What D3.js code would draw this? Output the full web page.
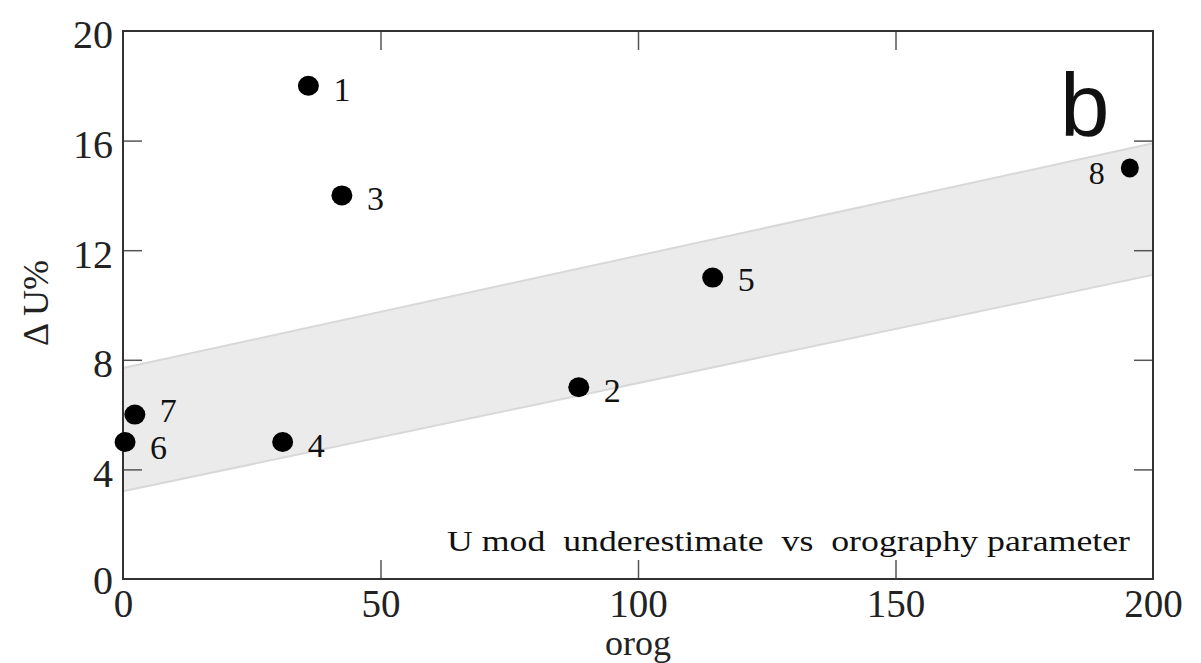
<!DOCTYPE html>
<html>
<head>
<meta charset="utf-8">
<script src="https://cdn.jsdelivr.net/npm/d3@7"></script>
<style>
  html, body { margin: 0; padding: 0; background: #fff; }
  svg { display: block; }
</style>
</head>
<body>
<svg id="chart" width="1201" height="663"></svg>
<script>
// ---- data ----
const pointIds   = ["1", "2", "3", "4", "5", "6", "7", "8"];
const orogValues = [36, 88.5, 42.5, 31, 114.5, 0.4, 2.3, 195.5];
const dUValues   = [18, 7, 14, 5, 11, 5, 6, 15];
const labelSide  = ["right", "right", "right", "right", "right", "right", "right", "left"];
const bandX      = [0, 200];
const bandLower  = [3.2, 11.1];
const bandUpper  = [7.7, 15.9];
const xTicks     = [0, 50, 100, 150, 200];
const yTicks     = [0, 4, 8, 12, 16, 20];
const xTitle = "orog";
const yTitle = "\u0394 U%";
const annotation = "U mod  underestimate  vs  orography parameter";
const panelLetter = "b";

// label nudges (style only)
const labelNudge = { "7": -8, "6": 2, "8": 1, "5": -2 };

// ---- layout ----
const W = 1201, H = 663;
const m = { left: 123, right: 48, top: 31, bottom: 84 };
const svg = d3.select("#chart");
const x = d3.scaleLinear().domain([0, 200]).range([m.left, W - m.right]);
const y = d3.scaleLinear().domain([0, 20]).range([H - m.bottom, m.top]);
const serif = "'Liberation Serif', 'Times New Roman', Times, serif";
const tickLen = 19;

// band
const band = bandX.map((v, i) => ({ x: v, lo: bandLower[i], hi: bandUpper[i] }));
svg.append("path")
  .datum(band)
  .attr("d", d3.area().x(d => x(d.x)).y0(d => y(d.lo)).y1(d => y(d.hi)))
  .attr("fill", "#ebebeb");
svg.append("path").datum(band)
  .attr("d", d3.line().x(d => x(d.x)).y(d => y(d.hi)))
  .attr("fill", "none").attr("stroke", "#d8d8d8").attr("stroke-width", 2);
svg.append("path").datum(band)
  .attr("d", d3.line().x(d => x(d.x)).y(d => y(d.lo)))
  .attr("fill", "none").attr("stroke", "#d8d8d8").attr("stroke-width", 2);

// axes (inside ticks, mirrored)
const axB = svg.append("g").attr("transform", `translate(0,${y(0)})`)
  .call(d3.axisBottom(x).tickValues(xTicks).tickSizeInner(-tickLen).tickSizeOuter(0).tickPadding(11));
const axT = svg.append("g").attr("transform", `translate(0,${y(20)})`)
  .call(d3.axisTop(x).tickValues(xTicks.slice(1, -1)).tickSizeInner(-tickLen).tickSizeOuter(0).tickFormat(""));
const axL = svg.append("g").attr("transform", `translate(${x(0)},0)`)
  .call(d3.axisLeft(y).tickValues(yTicks).tickSizeInner(-tickLen).tickSizeOuter(0).tickPadding(10));
const axR = svg.append("g").attr("transform", `translate(${x(200)},0)`)
  .call(d3.axisRight(y).tickValues(yTicks.slice(1, -1)).tickSizeInner(-tickLen).tickSizeOuter(0).tickFormat(""));

[axB, axT, axL, axR].forEach(g => {
  g.select(".domain").remove();
  g.selectAll(".tick line").attr("stroke", "#555").attr("stroke-width", 1.5);
  g.selectAll("text").attr("font-family", serif).attr("font-size", 40).attr("fill", "#222");
});
axB.selectAll(".tick").filter(d => d === 0 || d === 200).select("line").remove();
axL.selectAll(".tick").filter(d => d === 0 || d === 20).select("line").remove();
axB.selectAll(".tick text").attr("font-size", 39).attr("dy", "0.69em");
axL.selectAll(".tick text").attr("dy", d => d === 0 ? "0.36em" : "0.42em");

// frame
svg.append("rect")
  .attr("x", x(0)).attr("y", y(20))
  .attr("width", x(200) - x(0)).attr("height", y(0) - y(20))
  .attr("fill", "none").attr("stroke", "#333").attr("stroke-width", 2);

// points
const pts = pointIds.map((id, i) => ({ id, x: orogValues[i], y: dUValues[i], side: labelSide[i] }));
svg.append("g").selectAll("ellipse").data(pts).join("ellipse")
  .attr("cx", d => x(d.x)).attr("cy", d => y(d.y))
  .attr("rx", d => d.side === "left" ? 9 : 10.5)
  .attr("ry", d => d.side === "left" ? 9.5 : 10)
  .attr("fill", "#000");
svg.append("g").selectAll("text").data(pts).join("text")
  .attr("x", d => x(d.x) + (d.side === "left" ? -25 : 25))
  .attr("y", d => y(d.y) + 15 + (labelNudge[d.id] || 0))
  .attr("text-anchor", d => d.side === "left" ? "end" : "start")
  .attr("font-family", serif).attr("font-size", d => d.side === "left" ? 32 : 34).attr("fill", "#111")
  .text(d => d.id);

// titles
svg.append("text")
  .attr("x", (x(0) + x(200)) / 2).attr("y", 655)
  .attr("text-anchor", "middle")
  .attr("font-family", serif).attr("font-size", 36).attr("fill", "#222")
  .text(xTitle);
svg.append("text")
  .attr("transform", `translate(48,${(y(0) + y(20)) / 2 - 2}) rotate(-90)`)
  .attr("text-anchor", "middle")
  .attr("font-family", serif).attr("font-size", 36).attr("fill", "#222")
  .text(yTitle);

// annotation
svg.append("text")
  .attr("x", 447).attr("y", 551)
  .attr("font-family", serif).attr("font-size", 29).attr("fill", "#111")
  .attr("textLength", 683).attr("lengthAdjust", "spacingAndGlyphs")
  .style("white-space", "pre")
  .text(annotation);

// panel letter
svg.append("text")
  .attr("x", 1060).attr("y", 136)
  .attr("font-family", "'Liberation Sans', Arial, sans-serif").attr("font-size", 89).attr("fill", "#111")
  .text(panelLetter);
</script>
</body>
</html>
